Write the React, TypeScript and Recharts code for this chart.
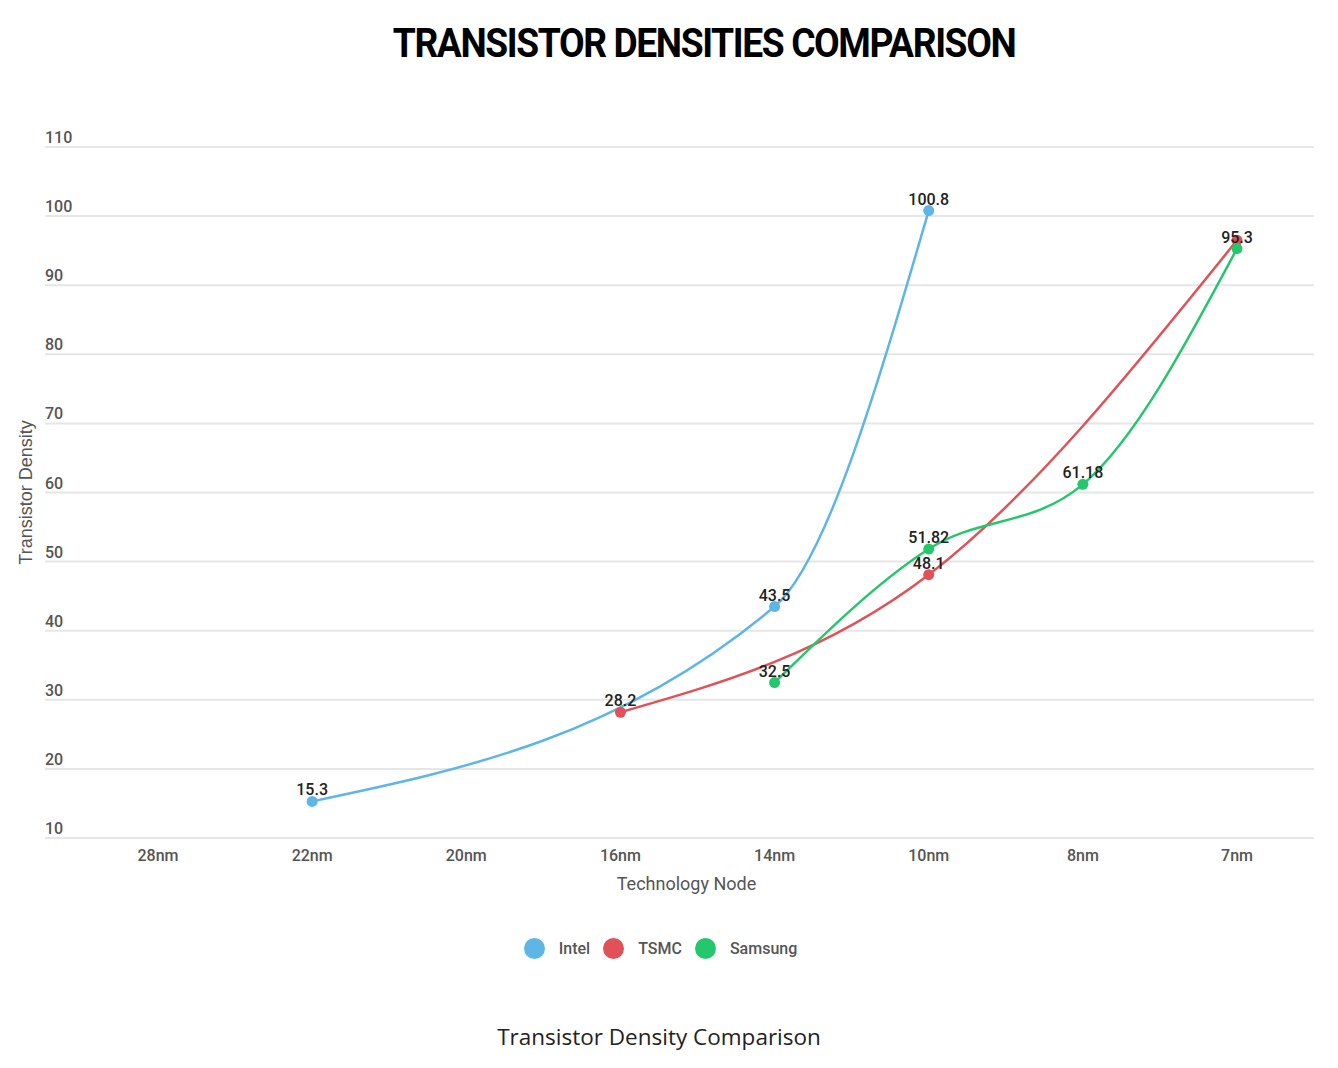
import { CartesianGrid, LabelList, Legend, Line, LineChart, XAxis, YAxis } from "recharts";

const NODES = ["28nm", "22nm", "20nm", "16nm", "14nm", "10nm", "8nm", "7nm"];
const INTEL = [null, 15.3, null, null, 43.5, 100.8, null, null];
const TSMC = [null, null, null, 28.2, null, 48.1, null, 96.5];
const SAMSUNG = [null, null, null, null, 32.5, 51.82, 61.18, 95.3];
const Y_TICKS = [10, 20, 30, 40, 50, 60, 70, 80, 90, 100, 110];

const SERIES = [
  { key: "intel", name: "Intel", color: "#5db6e6", hideLabels: [] as string[] },
  { key: "tsmc", name: "TSMC", color: "#e05257", hideLabels: ["7nm"] },
  { key: "samsung", name: "Samsung", color: "#25c76c", hideLabels: [] as string[] },
];

const data = NODES.map((node, i) => ({
  node,
  intel: INTEL[i],
  tsmc: TSMC[i],
  samsung: SAMSUNG[i],
}));

const FONT = "Roboto, 'Noto Sans', sans-serif";

function YTick(props: any) {
  const { x, y, payload } = props;
  return (
    <text x={x} y={y - 4} textAnchor="start" fontSize={16} fontWeight={500} fill="#555" fontFamily={FONT}>
      {payload.value}
    </text>
  );
}

function XTick(props: any) {
  const { x, y, payload } = props;
  return (
    <text x={x} y={y} dy={15} textAnchor="middle" fontSize={16} fontWeight={500} fill="#555" fontFamily={FONT}>
      {payload.value}
    </text>
  );
}

function makeLabel(hide: string[]) {
  return (props: any) => {
    const { x, y, value, index } = props;
    if (value == null || hide.includes(NODES[index])) return null;
    return (
      <text x={x} y={y - 6} textAnchor="middle" fontSize={16} fontWeight={500} fill="#222" fontFamily={FONT}>
        {value}
      </text>
    );
  };
}

function LegendContent() {
  return (
    <div style={{ display: "flex", justifyContent: "center", alignItems: "center", fontFamily: FONT, paddingRight: 4 }}>
      {SERIES.map((s) => (
        <div key={s.key} style={{ display: "flex", alignItems: "center", marginRight: 13 }}>
          <span style={{ width: 21, height: 21, borderRadius: "50%", background: s.color, display: "inline-block", marginRight: 14 }} />
          <span style={{ fontSize: 16, fontWeight: 500, color: "#555" }}>{s.name}</span>
        </div>
      ))}
    </div>
  );
}

export default function App() {
  return (
    <div style={{ position: "relative", width: 1322, height: 1060, background: "#fff", fontFamily: FONT }}>
      <div
        style={{
          position: "absolute",
          left: 100,
          width: 1192,
          top: 14,
          textAlign: "center",
          fontSize: 40,
          fontWeight: 700,
          color: "#000",
          letterSpacing: -1.5,
          lineHeight: "44px",
          transform: "scaleX(0.93)",
        }}
      >
        TRANSISTOR DENSITIES COMPARISON
      </div>
      <div style={{ position: "absolute", left: 0, top: 0 }}>
        <LineChart width={1322} height={1060} data={data} margin={{ top: 139, right: 16, bottom: 170, left: 0 }}>
          <CartesianGrid horizontal vertical={false} stroke="#e6e6e6" strokeWidth={2} />
          <XAxis
            dataKey="node"
            axisLine={false}
            tickLine={false}
            tick={<XTick />}
            height={60}
            padding={{ left: 113, right: 77 }}
            label={{ value: "Technology Node", position: "insideBottom", offset: 8, dx: 7, fontSize: 18, fill: "#555", fontFamily: FONT }}
          />
          <YAxis
            domain={[10, 110]}
            ticks={Y_TICKS}
            width={37}
            axisLine={false}
            tickLine={false}
            tickSize={0}
            tickMargin={0}
            interval={0}
            tick={<YTick />}
            label={{
              value: "Transistor Density",
              angle: -90,
              position: "insideLeft",
              offset: 18,
              style: { textAnchor: "middle", fontSize: 18, fill: "#555", fontFamily: "'Liberation Sans', Arial, sans-serif" },
            }}
          />
          <Legend
            layout="horizontal"
            verticalAlign="middle"
            align="center"
            wrapperStyle={{ top: 930, left: 0, width: 1322 }}
            content={<LegendContent />}
          />
          {SERIES.map((s) => (
            <Line
              key={s.key}
              type="monotone"
              dataKey={s.key}
              name={s.name}
              stroke={s.color}
              strokeWidth={2.5}
              connectNulls
              dot={{ r: 5.5, fill: s.color, stroke: s.color, strokeWidth: 0 }}
              activeDot={false}
              isAnimationActive={false}
            >
              <LabelList dataKey={s.key} content={makeLabel(s.hideLabels)} />
            </Line>
          ))}
        </LineChart>
      </div>
      <div
        style={{
          position: "absolute",
          left: 0,
          width: 1302,
          top: 1013,
          textAlign: "center",
          fontSize: 22.5,
          color: "#222",
          fontFamily: "'Open Sans', 'Noto Sans', sans-serif",
        }}
      >
        Transistor Density Comparison
      </div>
    </div>
  );
}
